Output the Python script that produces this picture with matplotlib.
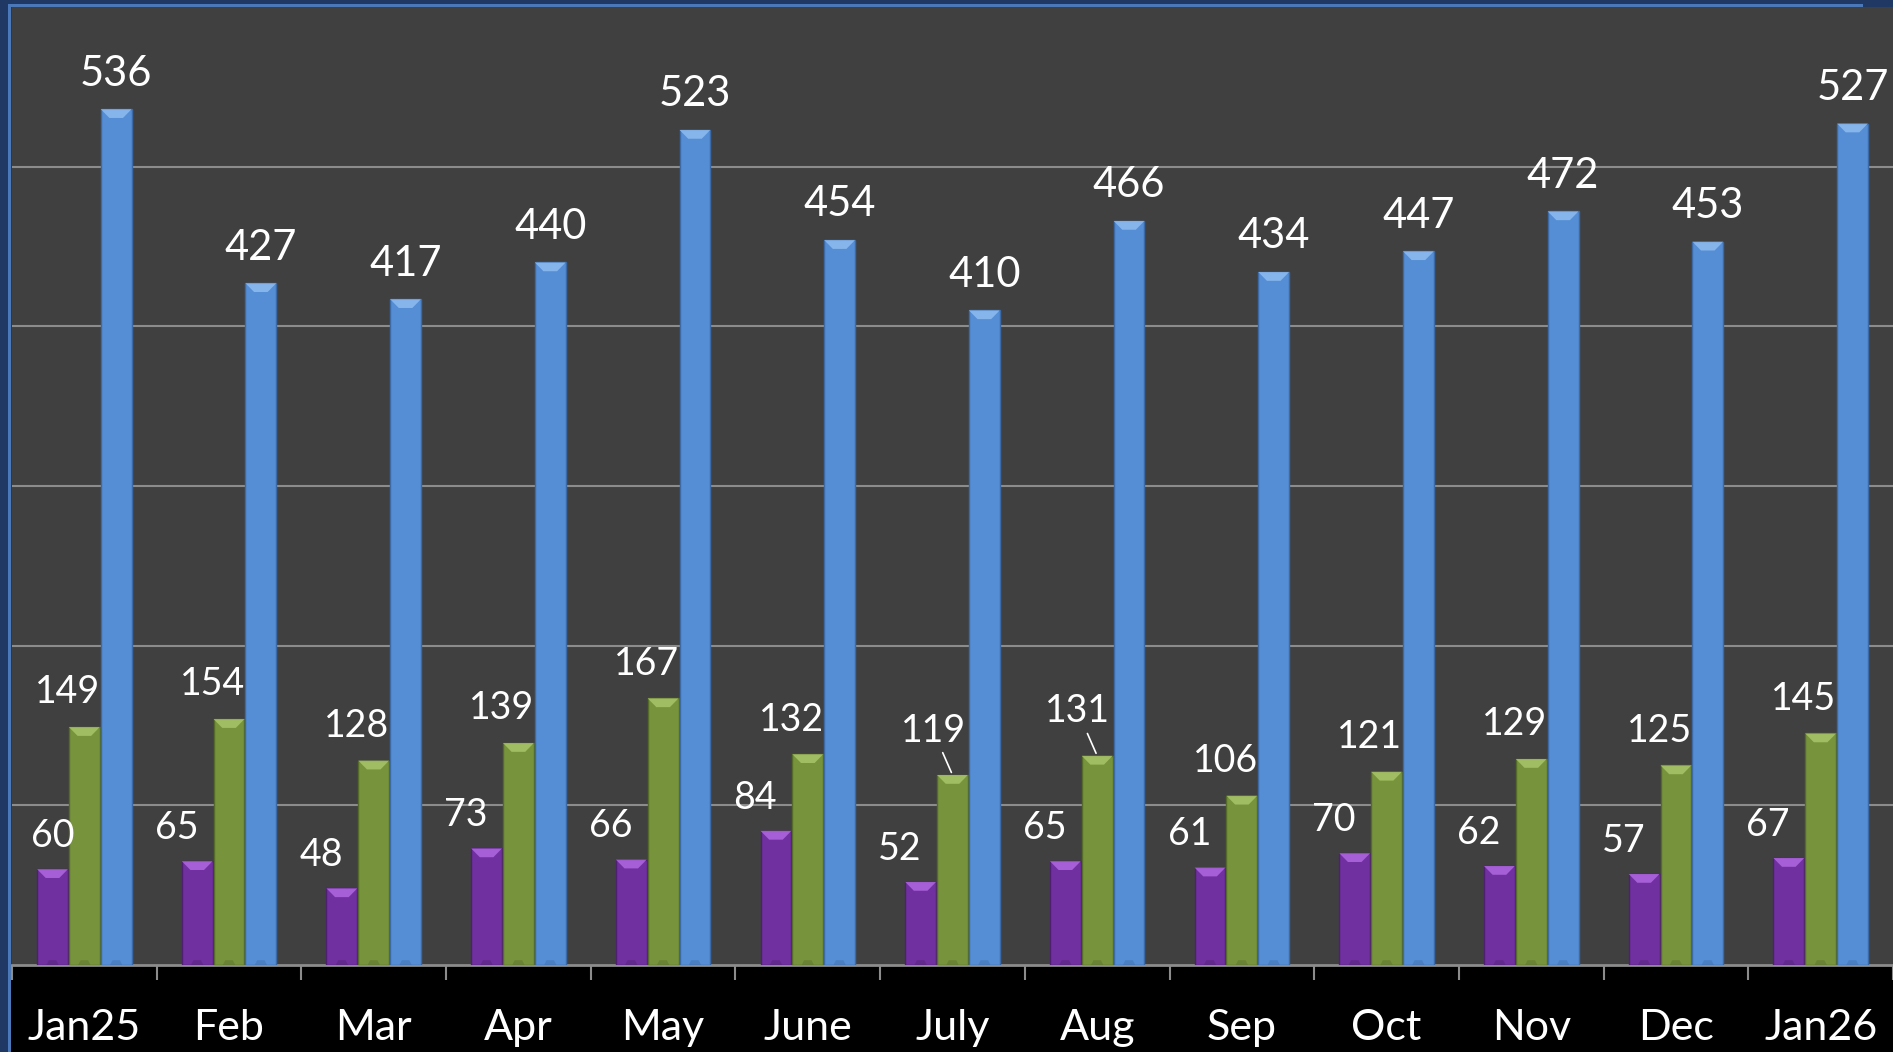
import numpy as np
import matplotlib
matplotlib.use("Agg")
from matplotlib import pyplot as plt
from matplotlib.patches import Polygon, Rectangle

plt.rcParams['font.family'] = ['Lato', 'DejaVu Sans']

# data
months = ["Jan25", "Feb", "Mar", "Apr", "May", "June", "July",
          "Aug", "Sep", "Oct", "Nov", "Dec", "Jan26"]
purple_vals = [60, 65, 48, 73, 66, 84, 52, 65, 61, 70, 62, 57, 67]
green_vals = [149, 154, 128, 139, 167, 132, 119, 131, 106, 121, 129, 125, 145]
blue_vals = [536, 427, 417, 440, 523, 454, 410, 466, 434, 447, 472, 453, 527]
green_leaders = [6, 7]   # labels drawn with a small leader line

W, H = 1893, 1052
fig = plt.figure(figsize=(W / 100, H / 100), dpi=100)
fig.patch.set_facecolor('#1f3864')

# black strip under the plot and thin light borders
fig.patches.append(Rectangle((10 / W, 0), 1 - 10 / W, 87 / H, transform=fig.transFigure,
                             facecolor='black', edgecolor='none', zorder=-2))
fig.patches.append(Rectangle((8 / W, 0), 3 / W, 1 - 4 / H, transform=fig.transFigure,
                             facecolor='#4a78b8', edgecolor='none', zorder=-2))
fig.patches.append(Rectangle((8 / W, 1 - 7 / H), 1 - 38 / W, 3 / H, transform=fig.transFigure,
                             facecolor='#4a78b8', edgecolor='none', zorder=-2))

ax = fig.add_axes([12 / W, 87 / H, (W - 12) / W, (965 - 7) / H])
ax.set_facecolor('#404040')

x = np.arange(len(months))
bw = 0.213
series = [
    (purple_vals, -0.22, '#7030a0', '#b068e0', '#4e1f72', 27, -15, 11),
    (green_vals, 0.0, '#77933c', '#a9c56a', '#556b28', 27, -12, 12),
    (blue_vals, 0.22, '#558ed5', '#8fbcf0', '#3b6aa6', 30, 0, 12),
]

for k, (vals, off, col, light, dark, fs, dx, dy) in enumerate(series):
    bars = ax.bar(x + off, vals, width=bw, color=col, edgecolor=dark,
                  linewidth=1, zorder=3)
    for b, v in zip(bars, vals):
        x0 = b.get_x()
        w = b.get_width()
        bev = 5.5
        ax.add_patch(Polygon([(x0, v), (x0 + w, v), (x0 + w * 0.72, v - bev),
                              (x0 + w * 0.28, v - bev)], closed=True,
                             facecolor=light, edgecolor='none', alpha=0.85, zorder=4))
        ax.add_patch(Polygon([(x0 + w * 0.3, 0), (x0 + w * 0.7, 0),
                              (x0 + w * 0.62, 3), (x0 + w * 0.38, 3)], closed=True,
                             facecolor=dark, edgecolor='none', alpha=0.4, zorder=4))

    for i, v in enumerate(vals):
        xi = x[i] + off
        ddx = 0 if (k == 0 and i == 0) else dx
        if k == 1 and i in green_leaders:
            ax.annotate(str(v), xy=(xi, v), xytext=(ddx - 2, dy + 7),
                        textcoords='offset points', ha='center', va='bottom',
                        color='white', fontsize=fs, zorder=5,
                        arrowprops=dict(arrowstyle='-', color='white', lw=1.2,
                                        shrinkA=1, shrinkB=2))
        else:
            ax.annotate(str(v), xy=(xi, v), xytext=(ddx, dy),
                        textcoords='offset points', ha='center', va='bottom',
                        color='white', fontsize=fs, zorder=5)

ax.set_ylim(0, 600)
ax.set_xlim(-0.5, len(months) - 0.5)
ax.set_yticks([100, 200, 300, 400, 500])
ax.yaxis.grid(True, color='#8c8c8c', linewidth=1.5, zorder=0)
ax.set_axisbelow(True)
ax.tick_params(axis='y', left=False, labelleft=False)

ax.set_xticks(np.arange(len(months) + 1) - 0.5)
ax.set_xticklabels([])
ax.tick_params(axis='x', which='major', direction='out', length=11, width=1.5,
               color='#8c8c8c')
ax.set_xticks(x, minor=True)
ax.set_xticklabels(months, minor=True, color='white', fontsize=31)
ax.tick_params(axis='x', which='minor', length=0, pad=32)

for s in ['top', 'right', 'left']:
    ax.spines[s].set_visible(False)
ax.spines['bottom'].set_color('#8c8c8c')
ax.spines['bottom'].set_linewidth(2)

fig.savefig('out.png', dpi=100, facecolor=fig.get_facecolor())
